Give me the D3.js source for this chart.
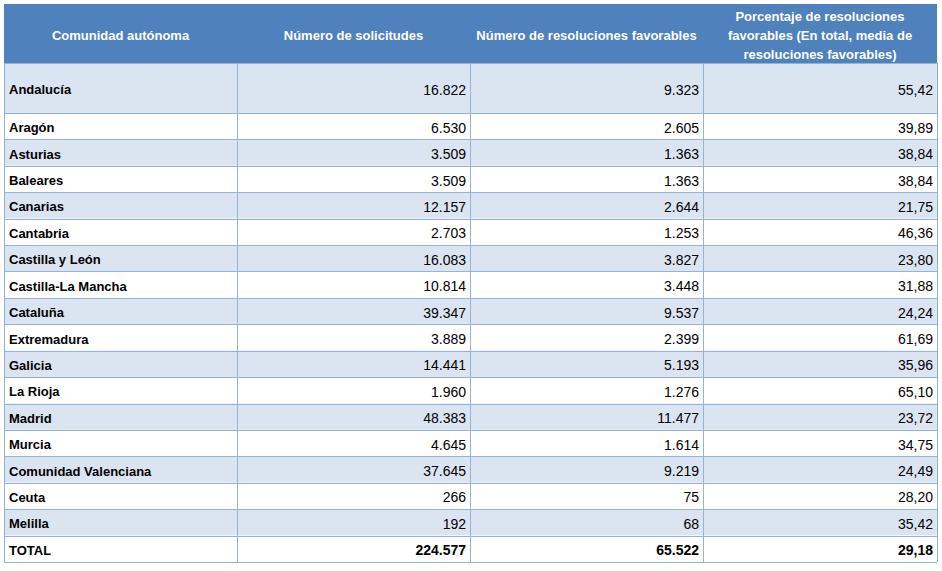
<!DOCTYPE html>
<html>
<head>
<meta charset="utf-8">
<script src="https://cdn.jsdelivr.net/npm/d3@7"></script>
<style>
  body { margin: 0; background: #fff; }
  svg { display: block; font-family: "Liberation Sans", Arial, sans-serif; }
</style>
</head>
<body>
<script>
// table data
const regions = ["Andalucía", "Aragón", "Asturias", "Baleares", "Canarias", "Cantabria",
  "Castilla y León", "Castilla-La Mancha", "Cataluña", "Extremadura", "Galicia", "La Rioja",
  "Madrid", "Murcia", "Comunidad Valenciana", "Ceuta", "Melilla", "TOTAL"];
const solicitudes = [16822, 6530, 3509, 3509, 12157, 2703, 16083, 10814, 39347, 3889,
  14441, 1960, 48383, 4645, 37645, 266, 192, 224577];
const favorables = [9323, 2605, 1363, 1363, 2644, 1253, 3827, 3448, 9537, 2399,
  5193, 1276, 11477, 1614, 9219, 75, 68, 65522];
const porcentaje = [55.42, 39.89, 38.84, 38.84, 21.75, 46.36, 23.80, 31.88, 24.24, 61.69,
  35.96, 65.10, 23.72, 34.75, 24.49, 28.20, 35.42, 29.18];
const headers = [
  ["Comunidad autónoma"],
  ["Número de solicitudes"],
  ["Número de resoluciones favorables"],
  ["Porcentaje de resoluciones", "favorables (En total, media de", "resoluciones favorables)"]
];

const width = 942, height = 571;
const left = 4, right = 937;
const headTop = 4, headBottom = 63, firstBottom = 113, tableBottom = 562;
const colEdges = [left, 237, 470, 703, right];

const es = d3.formatLocale({ decimal: ",", thousands: ".", grouping: [3], currency: ["", " €"] });
const fmtInt = es.format(",d");
const fmtPct = es.format(",.2f");

// row geometry: first row is taller, the rest share the remaining space
const yRow = d3.scaleLinear().domain([1, regions.length]).range([firstBottom, tableBottom]);
const rowTop = i => i === 0 ? headBottom : yRow(i);
const rowBottom = i => i === 0 ? firstBottom : yRow(i + 1);

const svg = d3.select("body").append("svg")
  .attr("width", width).attr("height", height);

// header band
svg.append("rect")
  .attr("x", left).attr("y", headTop)
  .attr("width", right - left).attr("height", headBottom - headTop)
  .attr("fill", "#4f81bd");

headers.forEach((lines, c) => {
  const cx = (colEdges[c] + colEdges[c + 1]) / 2;
  const lh = 19;
  const cy = (headTop + headBottom) / 2 + 1.5 - (lines.length - 1) * lh / 2;
  svg.append("text")
    .attr("x", cx).attr("y", cy)
    .attr("text-anchor", "middle")
    .attr("dominant-baseline", "central")
    .attr("fill", "#fff")
    .attr("font-size", 13)
    .attr("font-weight", "bold")
    .selectAll("tspan").data(lines).join("tspan")
    .attr("x", cx).attr("dy", (d, i) => i === 0 ? 0 : lh)
    .text(d => d);
});

// body rows
const rows = svg.append("g").selectAll("g").data(regions).join("g");

rows.append("rect")
  .attr("x", left).attr("y", (d, i) => rowTop(i))
  .attr("width", right - left).attr("height", (d, i) => rowBottom(i) - rowTop(i))
  .attr("fill", (d, i) => i % 2 === 0 ? "#dbe5f1" : "#ffffff");

const isTotal = d => d === "TOTAL";
const midY = i => (rowTop(i) + rowBottom(i)) / 2 + 1.5;

rows.append("text")
  .attr("x", left + 5).attr("y", (d, i) => midY(i))
  .attr("dominant-baseline", "central")
  .attr("font-size", 13).attr("font-weight", "bold")
  .attr("fill", "#000")
  .text(d => d);

const cols = [
  { vals: solicitudes, fmt: fmtInt },
  { vals: favorables, fmt: fmtInt },
  { vals: porcentaje, fmt: fmtPct }
];
cols.forEach((col, c) => {
  rows.append("text")
    .attr("x", colEdges[c + 2] - 4).attr("y", (d, i) => midY(i))
    .attr("text-anchor", "end")
    .attr("dominant-baseline", "central")
    .attr("font-size", 14)
    .attr("font-weight", d => isTotal(d) ? "bold" : "normal")
    .attr("fill", "#000")
    .text((d, i) => col.fmt(col.vals[i]));
});

// grid lines
const grid = svg.append("g").attr("stroke", "#95b3d7").attr("stroke-width", 1).attr("fill", "none");
const hLines = [headBottom].concat(regions.map((d, i) => rowBottom(i)));
grid.selectAll("line.h").data(hLines).join("line")
  .attr("class", "h")
  .attr("x1", left).attr("x2", right)
  .attr("y1", d => Math.round(d) + 0.5).attr("y2", d => Math.round(d) + 0.5);
grid.selectAll("line.v").data(colEdges).join("line")
  .attr("class", "v")
  .attr("x1", d => d + 0.5).attr("x2", d => d + 0.5)
  .attr("y1", headBottom).attr("y2", tableBottom);
</script>
</body>
</html>
